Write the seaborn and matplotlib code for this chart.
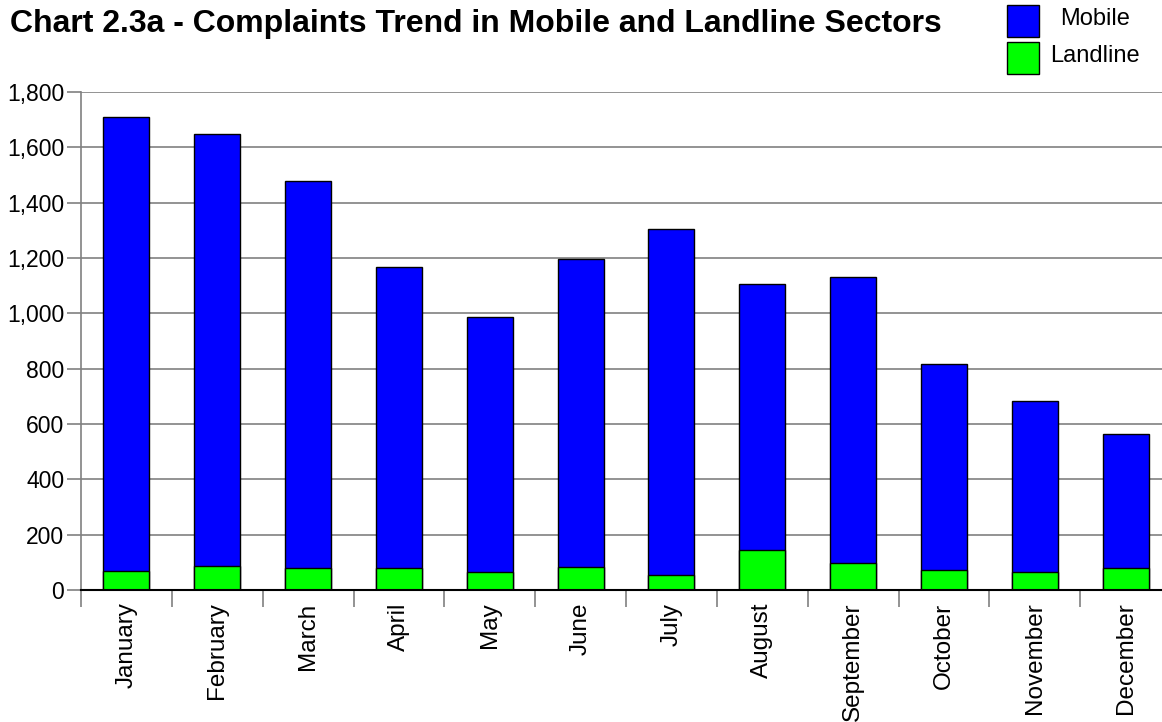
import matplotlib
matplotlib.use("Agg")
import matplotlib.pyplot as plt
from matplotlib.patches import Rectangle
from matplotlib.ticker import FuncFormatter, MultipleLocator
import numpy as np
import pandas as pd
import seaborn as sns

months = ["January", "February", "March", "April", "May", "June", "July",
          "August", "September", "October", "November", "December"]
mobile = [1642, 1560, 1397, 1086, 921, 1114, 1249, 960, 1032, 746, 617, 483]
landline = [67, 88, 81, 81, 66, 83, 56, 146, 99, 71, 66, 81]

BLUE = "#0000ff"
GREEN = "#00ff00"
GRID = "#808080"

sns.set_theme(style="white")
plt.rcParams["font.family"] = ["Liberation Sans", "DejaVu Sans"]
plt.rcParams["text.color"] = "black"
plt.rcParams["xtick.labelcolor"] = "black"
plt.rcParams["ytick.labelcolor"] = "black"

df = pd.DataFrame({"month": months, "mobile": mobile, "landline": landline})
df["total"] = df["mobile"] + df["landline"]

W, H = 1162, 722
fig = plt.figure(figsize=(W / 100, H / 100), dpi=100)
ax = fig.add_axes([81 / W, 1 - 590 / H, (1171 - 81) / W, (590 - 92) / H])

# stacked bars: full height in blue, landline portion in green at the base
sns.barplot(data=df, x="month", y="total", color=BLUE, saturation=1,
            width=0.505, edgecolor="black", linewidth=1, ax=ax, zorder=3)
sns.barplot(data=df, x="month", y="landline", color=GREEN, saturation=1,
            width=0.505, edgecolor="black", linewidth=1, ax=ax, zorder=4)

ax.set_xlim(-0.5, len(months) - 0.5)
ax.set_ylim(0, 1800)
ax.yaxis.set_major_locator(MultipleLocator(200))
ax.yaxis.set_major_formatter(FuncFormatter(lambda v, p: f"{int(v):,}"))
ax.grid(axis="y", color=GRID, linewidth=1.2, zorder=0)
ax.set_axisbelow(True)

ax.set_xlabel("")
ax.set_ylabel("")
ax.set_xticks(range(len(months)))
ax.set_xticklabels(months, rotation=90, va="top", ha="center", fontsize=17.5,
                   color="black")
ax.set_xticks(np.arange(-0.5, len(months)), minor=True)
ax.tick_params(axis="x", which="major", length=0, pad=9)
ax.tick_params(axis="x", which="minor", length=12, width=1.2, color=GRID,
               direction="out", bottom=True)
ax.tick_params(axis="y", which="major", length=10, width=1.2, color=GRID,
               direction="out", left=True, labelsize=16.5, pad=2,
               labelcolor="black")

for side in ("top", "right"):
    ax.spines[side].set_visible(False)
ax.spines["left"].set_color(GRID)
ax.spines["left"].set_linewidth(1.2)
ax.spines["bottom"].set_color("black")
ax.spines["bottom"].set_linewidth(1.5)
ax.spines["bottom"].set_zorder(5)

fig.text(10 / W, 1 - 24 / H, "Chart 2.3a - Complaints Trend in Mobile and Landline Sectors",
         fontsize=23, fontweight="bold", ha="left", va="center", color="black")

# legend key
for y0, col, label in [(5, BLUE, "Mobile"), (42, GREEN, "Landline")]:
    fig.add_artist(Rectangle((1007 / W, 1 - (y0 + 32) / H), 32 / W, 32 / H,
                             transform=fig.transFigure, facecolor=col,
                             edgecolor="black", linewidth=1))
    fig.text(1095 / W, 1 - (y0 + 14) / H, label, fontsize=17,
             ha="center", va="center", color="black")

fig.savefig("out.png", dpi=100)
